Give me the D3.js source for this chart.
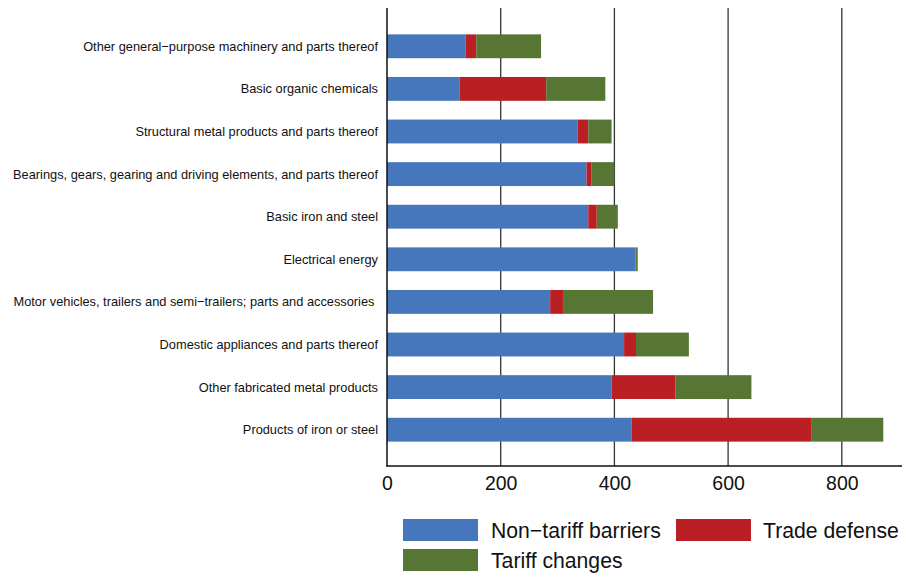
<!DOCTYPE html>
<html><head><meta charset="utf-8">
<script src="https://cdn.jsdelivr.net/npm/d3@7"></script>
<style>body{margin:0;background:#fff}svg{display:block}text{font-family:"Liberation Sans",Arial,sans-serif}</style>
</head><body><svg id="c" width="906" height="577"></svg>
<script>
const categories = [
  "Other general\u2212purpose machinery and parts thereof",
  "Basic organic chemicals",
  "Structural metal products and parts thereof",
  "Bearings, gears, gearing and driving elements, and parts thereof",
  "Basic iron and steel",
  "Electrical energy",
  "Motor vehicles, trailers and semi\u2212trailers; parts and accessories ",
  "Domestic appliances and parts thereof",
  "Other fabricated metal products",
  "Products of iron or steel"
];
const seriesNames = ["Non\u2212tariff barriers", "Trade defense", "Tariff changes"];
const nonTariff = [138, 128, 335, 351, 354, 437, 287, 417, 395, 430];
const tradeDefense = [19, 152, 19, 9, 15, 0.5, 24, 21, 112, 316];
const tariffChanges = [114, 104, 41, 40, 37, 3.5, 157, 93, 134, 127];
const xTicks = [0, 200, 400, 600, 800];
const colors = ["#4677bd", "#ba1f24", "#577633"];

const svg = d3.select("#c");
const x = d3.scaleLinear().domain([0, 1000]).range([387, 387 + 1000 * 0.5685]);
const y = d3.scaleBand().domain(categories).range([25, 451]).paddingInner(0.44).paddingOuter(0.22);

const rows = categories.map((c, i) => ({cat: c, a: nonTariff[i], b: tradeDefense[i], c2: tariffChanges[i]}));
const stack = d3.stack().keys(["a", "b", "c2"])(rows);

// grid lines
svg.append("g").selectAll("line").data(xTicks.filter(d => d > 0)).join("line")
  .attr("x1", d => x(d)).attr("x2", d => x(d)).attr("y1", 8).attr("y2", 466)
  .attr("stroke", "#333").attr("stroke-width", 1.3);

// bars
svg.append("g").selectAll("g").data(stack).join("g").attr("fill", (d, i) => colors[i])
  .selectAll("rect").data(d => d).join("rect")
  .attr("x", d => x(d[0])).attr("width", d => Math.max(0, x(d[1]) - x(d[0])))
  .attr("y", d => y(d.data.cat)).attr("height", y.bandwidth());

// axes lines
svg.append("line").attr("x1", 387).attr("x2", 387).attr("y1", 8).attr("y2", 466).attr("stroke", "#111").attr("stroke-width", 1.5);
const xAxis = svg.append("g").attr("transform", "translate(0,466)")
  .call(d3.axisBottom(x).tickValues(xTicks).tickSize(0).tickPadding(10).tickFormat(d3.format("d")));
xAxis.select(".domain").remove();
xAxis.selectAll("text").attr("font-size", 19.5).attr("fill", "#111").attr("font-family", "Liberation Sans, Arial, sans-serif");
svg.append("line").attr("x1", 386).attr("x2", 902).attr("y1", 466).attr("y2", 466).attr("stroke", "#111").attr("stroke-width", 1.5);

// category labels
svg.append("g").selectAll("text").data(categories).join("text")
  .attr("x", 378).attr("y", d => y(d) + y.bandwidth() / 2).attr("dy", "0.35em")
  .attr("text-anchor", "end").attr("font-size", 12.8).attr("fill", "#111")
  .style("white-space", "pre").text(d => d);

// legend
const leg = [
  {name: seriesNames[0], c: colors[0], sx: 403, sy: 519, tx: 491},
  {name: seriesNames[1], c: colors[1], sx: 676, sy: 519, tx: 763},
  {name: seriesNames[2], c: colors[2], sx: 403, sy: 549, tx: 491}
];
const lg = svg.append("g").selectAll("g").data(leg).join("g");
lg.append("rect").attr("x", d => d.sx).attr("y", d => d.sy).attr("width", 75).attr("height", 22).attr("fill", d => d.c);
lg.append("text").attr("x", d => d.tx).attr("y", d => d.sy + 11).attr("dy", "0.36em")
  .attr("font-size", 21.2).attr("fill", "#111").text(d => d.name);
</script></body></html>
